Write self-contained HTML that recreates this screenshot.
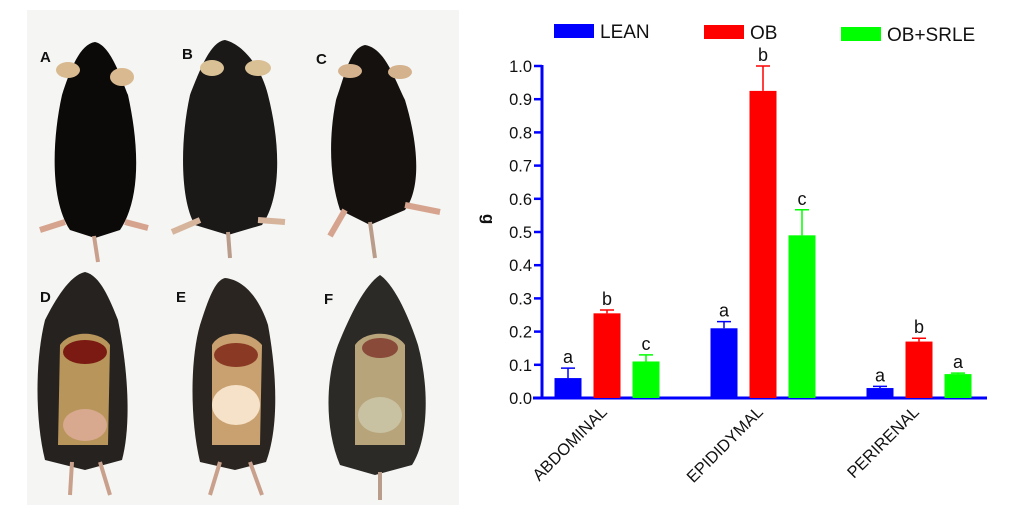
<!DOCTYPE html>
<html><head><meta charset="utf-8"><style>
html,body{margin:0;padding:0;background:#fff;}
svg{display:block;font-family:"Liberation Sans",sans-serif;}
</style></head><body>
<svg id="fig" width="1024" height="520" viewBox="0 0 1024 520">
<g>
  <rect x="27" y="10" width="432" height="495" fill="#f5f5f3"/>
  <g>
    <path d="M95,42 C110,45 120,75 128,95 C140,150 140,200 120,230 L95,238 L70,230 C50,200 52,140 62,95 C70,70 80,44 95,42Z" fill="#0c0a09"/>
    <ellipse cx="68" cy="70" rx="12" ry="8" fill="#d9b98f"/><ellipse cx="122" cy="77" rx="12" ry="9" fill="#d9b98f"/>
    <path d="M94,236 L98,262" stroke="#c9a08c" stroke-width="4"/>
    <path d="M65,222 L40,230 M125,222 L148,228" stroke="#d6a48e" stroke-width="6"/>
  </g>
  <g>
    <path d="M225,40 C245,45 262,70 268,95 C282,150 280,200 262,225 L228,235 L195,225 C180,200 180,140 190,95 C200,70 210,42 225,40Z" fill="#1a1918"/>
    <ellipse cx="212" cy="68" rx="12" ry="8" fill="#d9c095"/><ellipse cx="258" cy="68" rx="13" ry="8" fill="#d9c095"/>
    <path d="M228,232 L230,258" stroke="#b99d8a" stroke-width="4"/>
    <path d="M200,220 L172,232 M258,220 L285,222" stroke="#d6b49c" stroke-width="6"/>
  </g>
  <g>
    <path d="M365,45 C385,48 395,80 405,100 C420,150 420,190 405,210 L370,225 L340,210 C330,180 328,140 336,100 C345,75 350,48 365,45Z" fill="#15110f"/>
    <ellipse cx="350" cy="71" rx="12" ry="7" fill="#d3b28d"/><ellipse cx="400" cy="72" rx="12" ry="7" fill="#d3b28d"/>
    <path d="M370,222 L375,258" stroke="#b99d8a" stroke-width="4"/>
    <path d="M345,210 L330,236 M405,205 L440,212" stroke="#d6a48e" stroke-width="6"/>
  </g>
  <g>
    <path d="M85,272 C100,275 110,300 118,320 C130,380 130,430 122,460 L85,470 L45,460 C35,420 35,360 45,320 C55,300 70,275 85,272Z" fill="#26221f"/>
    <path d="M60,345 C70,330 100,330 110,345 L108,445 L58,445Z" fill="#b8955a"/>
    <ellipse cx="85" cy="352" rx="22" ry="12" fill="#7a1a12"/>
    <ellipse cx="85" cy="425" rx="22" ry="16" fill="#d8a98f"/>
    <path d="M72,462 L70,495 M100,462 L110,495" stroke="#c9a08c" stroke-width="4"/>
  </g>
  <g>
    <path d="M225,278 C245,280 260,300 268,325 C278,380 278,430 266,462 L235,470 L200,462 C190,420 190,360 200,325 C208,300 215,280 225,278Z" fill="#2a2520"/>
    <path d="M212,345 C220,330 250,330 262,345 L260,445 L212,445Z" fill="#c9a070"/>
    <ellipse cx="236" cy="355" rx="22" ry="12" fill="#8a3a24"/>
    <ellipse cx="236" cy="405" rx="24" ry="20" fill="#f5e2c8"/>
    <path d="M220,462 L210,495 M250,462 L262,495" stroke="#c9a08c" stroke-width="4"/>
  </g>
  <g>
    <path d="M380,275 C395,285 410,320 418,345 C430,390 428,440 412,465 L375,475 L340,465 C325,430 325,380 338,345 C350,315 365,285 380,275Z" fill="#2c2a26"/>
    <path d="M355,345 C365,330 395,330 405,345 L405,445 L355,445Z" fill="#b7a47a"/>
    <ellipse cx="380" cy="348" rx="18" ry="10" fill="#8a4a3a"/>
    <ellipse cx="380" cy="415" rx="22" ry="18" fill="#c8c2a2"/>
    <path d="M380,472 L380,500" stroke="#b99d8a" stroke-width="4"/>
  </g>
  <g font-weight="bold" font-size="15" fill="#111">
    <text x="40" y="62">A</text>
    <text x="182" y="59">B</text>
    <text x="316" y="64">C</text>
    <text x="40" y="302">D</text>
    <text x="176" y="302">E</text>
    <text x="324" y="304">F</text>
  </g>
</g>
<g id="chart"></g>
</svg>
<script>
const categories = ["ABDOMINAL","EPIDIDYMAL","PERIRENAL"];
const seriesNames = ["LEAN","OB","OB+SRLE"];
const leanVals = [0.06, 0.21, 0.03];
const obVals = [0.255, 0.925, 0.17];
const srleVals = [0.11, 0.49, 0.072];
const leanErr = [0.03, 0.02, 0.005];
const obErr = [0.01, 0.075, 0.01];
const srleErr = [0.02, 0.077, 0.003];
const leanSig = ["a","a","a"];
const obSig = ["b","b","b"];
const srleSig = ["c","c","a"];
const yTicks = [0,0.1,0.2,0.3,0.4,0.5,0.6,0.7,0.8,0.9,1.0];

const NS = "http://www.w3.org/2000/svg";
const g = document.getElementById("chart");
function mk(tag, attrs, parent){ const e=document.createElementNS(NS,tag); for(const k in attrs) e.setAttribute(k,attrs[k]); (parent||g).appendChild(e); return e; }
const y0 = 398, y1 = 66;
const yScale = v => y0 - v*(y0-y1);
const groupCenter = i => 607 + i*156;
const barW = 27, step = 39;
const colors = ["#0000ff","#ff0000","#00ff00"];
const vals = [leanVals, obVals, srleVals], errs=[leanErr, obErr, srleErr], sigs=[leanSig, obSig, srleSig];

let ax = mk("line",{x1:542,y1:y1-1,x2:542,y2:y0+1,stroke:"#0000ff","stroke-width":3});


let xa = mk("line",{x1:533,y1:y0,x2:987,y2:y0,stroke:"#0000ff","stroke-width":3});


yTicks.forEach(t=>{
  const y=yScale(t);
  const tk=mk("line",{x1:534,y1:y,x2:542,y2:y,stroke:"#0000ff","stroke-width":2.5});
  
  
  const tx=mk("text",{x:532,y:y+6,"text-anchor":"end","font-size":16.5,fill:"#111"});
  tx.textContent=t.toFixed(1);
  
  
});
const yl=mk("text",{x:0,y:0,transform:"translate(483,219) rotate(90)","text-anchor":"middle","font-size":17,"font-weight":"bold",fill:"#111"});
yl.textContent="g";



categories.forEach((c,i)=>{
  for(let s=0;s<3;s++){
    const cx=groupCenter(i)+(s-1)*step;
    const v=vals[s][i], e=errs[s][i];
    const yt=yScale(v), ye=yScale(v+e);
    const eb=mk("path",{d:`M${cx},${yt} L${cx},${ye} M${cx-7},${ye} L${cx+7},${ye}`,stroke:colors[s],"stroke-width":1.5,fill:"none"});
    
    
    const r=mk("rect",{x:cx-barW/2,y:yt,width:barW,height:y0-yt,fill:colors[s]});
    
    
    const lt=mk("text",{x:cx,y:ye-5,"text-anchor":"middle","font-size":18,fill:"#111"});
    lt.textContent=sigs[s][i];
    
    
  }
  const cl=mk("text",{x:0,y:0,transform:`translate(${groupCenter(i)+1},413) rotate(-45)`,"text-anchor":"end","font-size":16.5,fill:"#111"});
  cl.textContent=c;
  
  
});

const legX=[554,704,841], legY=[24,25,27];
seriesNames.forEach((n,s)=>{
  const r=mk("rect",{x:legX[s],y:legY[s],width:40,height:14,fill:colors[s]});
  
  
  const t=mk("text",{x:legX[s]+46,y:legY[s]+14,"font-size":19,fill:"#111"});
  t.textContent=n;
  
  
});
</script>
</body></html>
